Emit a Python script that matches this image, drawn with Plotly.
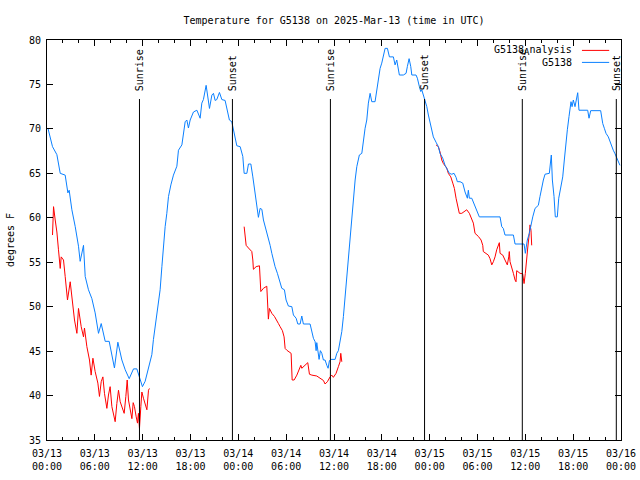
import pandas as pd
import plotly.graph_objects as go

BASE = pd.Timestamp("2025-03-13 00:00")
TITLE = "Temperature for G5138 on 2025-Mar-13 (time in UTC)"

# Observed G5138 temperature (hours since 03/13 00:00 UTC, degrees F)
obs_hours = [0.11, 0.69, 1.24, 1.66, 2.28, 2.62, 2.78, 3.12, 3.54, 3.95, 4.16, 4.58, 4.79, 5.20, 5.63,
             6.04, 6.46, 6.80, 7.30, 7.80, 8.46, 8.89, 9.39, 9.81, 10.31, 10.85, 11.27, 11.69, 11.97,
             12.31, 12.73, 13.15, 13.35, 13.69, 13.98, 14.19, 14.41, 14.61, 14.82, 15.03, 15.24, 15.54,
             15.86, 16.29, 16.49, 16.92, 17.12, 17.33, 17.54, 17.74, 17.96, 18.37, 18.80, 19.21, 19.42,
             19.62, 19.96, 20.18, 20.38, 20.68, 20.88, 21.09, 21.30, 21.63, 21.93, 22.34, 22.63, 22.88,
             23.18, 23.39, 23.60, 23.81, 24.23, 24.56, 24.73, 25.07, 25.27, 25.57, 25.82, 25.98, 26.23,
             26.40, 26.52, 26.73, 26.95, 27.15, 27.49, 27.77, 27.99, 28.20, 28.40, 28.61, 28.90, 29.15,
             29.45, 29.78, 29.99, 30.28, 30.71, 30.91, 31.25, 31.46, 31.75, 31.96, 32.16, 33.00, 33.22,
             33.42, 33.63, 33.76, 33.84, 33.97, 34.13, 34.29, 34.47, 34.67, 34.88, 35.10, 35.26, 35.42,
             35.60, 36.14, 36.35, 36.55, 36.76, 36.98, 37.18, 37.39, 37.60, 37.81, 38.02, 38.23, 38.43,
             38.65, 38.86, 39.18, 39.49, 39.69, 39.90, 40.11, 40.31, 40.53, 40.74, 41.15, 41.37, 41.57,
             41.78, 41.99, 42.19, 42.41, 42.70, 42.95, 43.45, 43.66, 43.87, 44.00, 44.20, 44.70, 45.04,
             45.20, 45.42, 45.63, 45.76, 46.29, 46.46, 46.71, 46.88, 47.01, 47.21, 47.42, 47.64, 47.84,
             48.05, 48.26, 48.46, 48.80, 49.09, 49.30, 49.64, 49.93, 50.22, 50.47, 50.77, 51.06, 51.31,
             51.47, 51.81, 52.15, 52.44, 52.73, 52.85, 52.98, 53.28, 53.57, 53.82, 54.11, 54.23, 56.83,
             57.04, 57.24, 57.45, 58.50, 58.71, 59.84, 60.00, 60.11, 60.25, 60.50, 60.68, 60.93, 61.22,
             61.63, 61.84, 62.06, 62.26, 62.47, 63.01, 63.19, 63.26, 63.39, 63.60, 63.76, 64.01, 64.19,
             64.44, 64.69, 64.89, 65.07, 65.27, 65.48, 65.60, 65.73, 65.86, 66.02, 66.23, 66.45, 66.57,
             66.73, 67.82, 67.99, 68.20, 69.45, 69.71, 69.91, 70.12, 70.41, 70.62, 70.83, 71.03, 71.25,
             71.46, 71.66, 71.87]
obs_temp = [70.1, 68.0, 67.1, 65.0, 64.8, 62.8, 63.1, 60.9, 59.0, 56.8, 55.1, 56.9, 53.4, 51.9, 50.9,
            49.3, 47.0, 48.1, 46.1, 46.1, 43.1, 46.0, 44.0, 42.9, 41.9, 43.0, 43.0, 41.9, 41.0,
            41.6, 43.1, 44.6, 46.3, 48.5, 50.0, 51.9, 54.5, 57.1, 59.0, 60.5, 62.4, 63.7,
            64.8, 65.8, 67.6, 68.2, 69.5, 70.8, 71.0, 70.1, 71.0, 71.9, 72.1, 71.2, 72.9,
            73.3, 74.9, 73.3, 72.3, 73.8, 74.0, 73.2, 73.3, 74.1, 73.3, 73.2, 71.9, 71.0,
            70.8, 69.9, 69.1, 68.1, 68.0, 66.9, 65.0, 65.0, 66.05, 66.05, 64.6, 63.5, 62.0,
            60.5, 60.05, 61.06, 60.95, 59.75, 58.6, 57.9, 56.9, 56.0, 55.25, 54.5, 53.75, 53.0,
            52.07, 51.9, 50.75, 50.07, 50.0, 49.06, 48.7, 48.05, 48.05, 48.95, 48.05, 48.05, 47.0,
            46.44, 46.06, 45.05, 45.95, 44.75, 44.07, 45.05, 44.75, 44.0, 44.0, 43.4, 43.07, 43.9,
            44.07, 44.07, 44.75, 45.05, 46.06, 47.2, 48.9, 51.1, 53.4, 55.25, 58.25, 60.5, 62.4,
            64.25, 65.75, 67.06, 67.25, 68.75, 70.07, 71.0, 72.9, 74.0, 73.06, 73.06, 74.57, 75.9,
            76.8, 77.4, 78.3, 79.06, 79.06, 78.1, 78.1, 77.2, 77.75, 77.0, 76.06, 76.06, 76.25,
            77.0, 77.9, 77.0, 76.06, 76.06, 75.7, 74.75, 74.2, 74.4, 73.8, 73.06, 72.5, 71.56,
            70.8, 70.07, 69.1, 68.5, 68.0, 67.25, 66.7, 65.9, 65.4, 65.0, 64.9, 65.0, 64.55,
            64.06, 64.06, 63.9, 62.9, 62.2, 63.1, 62.2, 62.2, 61.6, 61.06, 60.5, 60.1, 60.1,
            59.0, 58.8, 58.06, 58.06, 57.05, 57.05, 56.0, 56.7, 57.5, 58.25, 59.2, 60.1, 61.06,
            61.4, 62.4, 63.5, 64.25, 64.9, 65.0, 66.5, 67.06, 64.25, 62.4, 60.1, 60.1, 62.2,
            63.5, 64.6, 66.5, 68.4, 69.9, 71.4, 72.3, 73.06, 72.5, 73.25, 72.5, 73.6, 74.07,
            72.1, 72.1, 71.2, 72.05, 72.05, 70.6, 70.07, 69.5, 69.1, 68.56, 68.0, 67.6, 67.2,
            66.7, 66.3, 65.9]

# G5138 analysis, three separate windows
ana1_hours = [0.69, 0.82, 1.03, 1.24, 1.44, 1.66, 1.78, 2.07, 2.28, 2.57, 2.91, 3.20, 3.45, 3.75, 3.95,
              4.29, 4.58, 4.70, 5.00, 5.33, 5.54, 5.76, 6.04, 6.38, 6.58, 6.80, 7.01, 7.21, 7.51, 7.71,
              7.92, 8.14, 8.34, 8.55, 8.76, 8.97, 9.18, 9.39, 9.68, 9.89, 10.06, 10.22, 10.43, 10.65,
              10.81, 10.97, 11.19, 11.35, 11.47, 11.60, 11.77, 11.90, 12.10, 12.31, 12.53, 12.73, 12.85]
ana1_temp = [58.06, 61.25, 59.75, 58.4, 56.4, 54.3, 55.6, 55.25, 53.4, 50.75, 52.8, 50.56, 48.5, 47.0, 49.8,
             47.75, 46.6, 47.6, 45.5, 44.0, 42.3, 44.2, 42.7, 41.4, 39.9, 41.56, 42.1, 40.25, 38.56, 40.06,
             41.0, 38.75, 38.0, 37.06, 39.1, 40.6, 39.3, 38.75, 38.0, 39.9, 41.75, 39.5, 38.4, 37.4,
             39.2, 38.75, 37.6, 36.9, 38.0, 36.3, 38.75, 40.4, 39.7, 38.9, 38.4, 40.6, 40.8]

ana2_hours = [24.73, 24.98, 25.27, 25.48, 25.69, 25.82, 25.89, 26.23, 26.65, 26.82, 27.15, 27.57, 27.70,
              27.77, 27.90, 28.20, 28.53, 28.83, 29.03, 29.24, 29.53, 29.74, 29.87, 30.08, 30.41, 30.62,
              30.75, 31.00, 31.34, 31.66, 31.84, 31.96, 32.38, 32.71, 32.92, 33.22, 33.84, 34.26, 34.67,
              34.88, 35.17, 35.51, 35.72, 35.92, 36.26, 36.55, 36.76, 36.85, 36.98]
ana2_temp = [59.0, 56.9, 56.6, 56.4, 56.2, 55.25, 54.2, 54.5, 54.6, 51.7, 52.07, 52.3, 50.4,
             48.6, 49.8, 49.25, 48.9, 48.5, 48.1, 47.75, 47.3, 46.6, 45.3, 45.1, 44.9, 44.75,
             41.75, 41.75, 42.3, 43.07, 43.4, 43.07, 43.4, 43.7, 42.4, 42.3, 42.2, 41.94, 41.7,
             41.3, 41.56, 42.1, 42.3, 42.05, 42.5, 43.25, 43.8, 44.75, 43.8]

ana3_hours = [48.80, 49.09, 49.30, 49.52, 49.72, 49.93, 50.14, 50.34, 50.65, 50.90, 51.10, 51.31, 51.52,
              51.72, 52.03, 52.35, 52.65, 52.98, 53.28, 53.48, 53.69, 54.11, 54.45, 54.66, 54.73, 55.07,
              55.36, 55.57, 55.79, 55.99, 56.20, 56.41, 56.62, 56.74, 56.83, 57.17, 57.45, 57.74, 57.92,
              57.99, 58.08, 58.29, 58.50, 58.71, 58.83, 58.92, 59.34, 59.67, 59.84, 60.00, 60.18, 60.30,
              60.50, 60.59, 60.71, 60.80]
ana3_temp = [68.2, 68.0, 67.4, 66.5, 66.1, 65.9, 65.6, 65.0, 64.6, 63.9, 63.3, 62.2, 61.4,
             60.5, 60.5, 60.7, 60.9, 60.5, 59.9, 59.4, 58.25, 57.9, 57.5, 56.9, 56.2, 56.0,
             55.8, 55.4, 54.7, 55.06, 55.6, 56.4, 56.9, 57.2, 56.0, 55.8, 55.25, 54.7, 55.6,
             56.2, 55.06, 54.5, 53.75, 53.0, 52.8, 54.05, 53.75, 53.7, 52.6, 53.75, 55.06, 56.6,
             58.25, 59.2, 58.6, 56.9]

sunrise_hours = [11.60, 35.55, 59.62]
sunset_hours = [23.26, 47.36, 71.41]

RED = "#ff0000"
BLUE = "#0a80ff"
FONT = "DejaVu Sans Mono"

PLOT_L, PLOT_R = 47, 621


def to_time(hours):
    return [BASE + pd.Timedelta(hours=h) for h in hours]


ana_x = to_time(ana1_hours) + [None] + to_time(ana2_hours) + [None] + to_time(ana3_hours)
ana_y = ana1_temp + [None] + ana2_temp + [None] + ana3_temp

fig = go.Figure()
fig.add_trace(go.Scatter(x=ana_x, y=ana_y, mode="lines", name="G5138_Analysis",
                         line=dict(color=RED, width=1), connectgaps=False, showlegend=False))
fig.add_trace(go.Scatter(x=to_time(obs_hours), y=obs_temp, mode="lines", name="G5138",
                         line=dict(color=BLUE, width=1), showlegend=False))

LINE_TOP = 0.8525
for label, hours in (("Sunrise", sunrise_hours), ("Sunset", sunset_hours)):
    for h in hours:
        t = BASE + pd.Timedelta(hours=h)
        fig.add_shape(type="line", xref="x", yref="paper", x0=t, x1=t, y0=0, y1=LINE_TOP,
                      line=dict(color="black", width=1))
        fig.add_annotation(x=t, xref="x", y=0.868, yref="paper", text=label, textangle=-90,
                           showarrow=False, xanchor="center", yanchor="bottom",
                           font=dict(family=FONT, size=10, color="black"))

# Legend (text right-aligned, sample line to its right, gnuplot style)
legend_rows = [("G5138<sub><span style='font-size:9px'>A</span></sub>nalysis", RED, 0.974),
               ("G5138", BLUE, 0.944)]
for text, color, yy in legend_rows:
    fig.add_annotation(x=0.918, xref="paper", y=yy, yref="paper", text=text, showarrow=False,
                       xanchor="right", yanchor="middle", font=dict(family=FONT, size=10, color="black"))
    fig.add_shape(type="line", xref="paper", yref="paper", x0=0.932, x1=0.9794, y0=yy, y1=yy,
                  line=dict(color=color, width=1))

fig.update_layout(
    width=640, height=480,
    margin=dict(l=PLOT_L, r=640 - PLOT_R, t=40, b=40, pad=0, autoexpand=False),
    paper_bgcolor="white", plot_bgcolor="white",
    font=dict(family=FONT, size=10, color="black"),
    title=dict(text=TITLE, x=(PLOT_L + PLOT_R) / 2 / 640, xanchor="center", y=1 - 20 / 480,
               yanchor="middle", font=dict(family=FONT, size=10, color="black")),
    showlegend=False,
)
fig.update_xaxes(
    type="date", automargin=False,
    range=[BASE, BASE + pd.Timedelta(hours=72)],
    tick0=BASE, dtick=6 * 3600 * 1000,
    tickformat="%m/%d<br>%H:%M",
    ticks="inside", ticklen=6, tickcolor="black", ticklabelstandoff=4,
    minor=dict(dtick=2 * 3600 * 1000, ticks="inside", ticklen=3, tickcolor="black"),
    showline=True, linecolor="black", linewidth=1, mirror="ticks",
    showgrid=False, zeroline=False,
    tickfont=dict(family=FONT, size=10, color="black"),
)
fig.update_yaxes(
    automargin=False,
    range=[35, 80], dtick=5, tick0=35,
    ticks="inside", ticklen=6, tickcolor="black", ticklabelstandoff=3,
    showline=True, linecolor="black", linewidth=1, mirror="ticks",
    showgrid=False, zeroline=False,
    tickfont=dict(family=FONT, size=10, color="black"),
    title=dict(text="degrees F", standoff=12, font=dict(family=FONT, size=10, color="black")),
)

fig.write_html("out.html")
